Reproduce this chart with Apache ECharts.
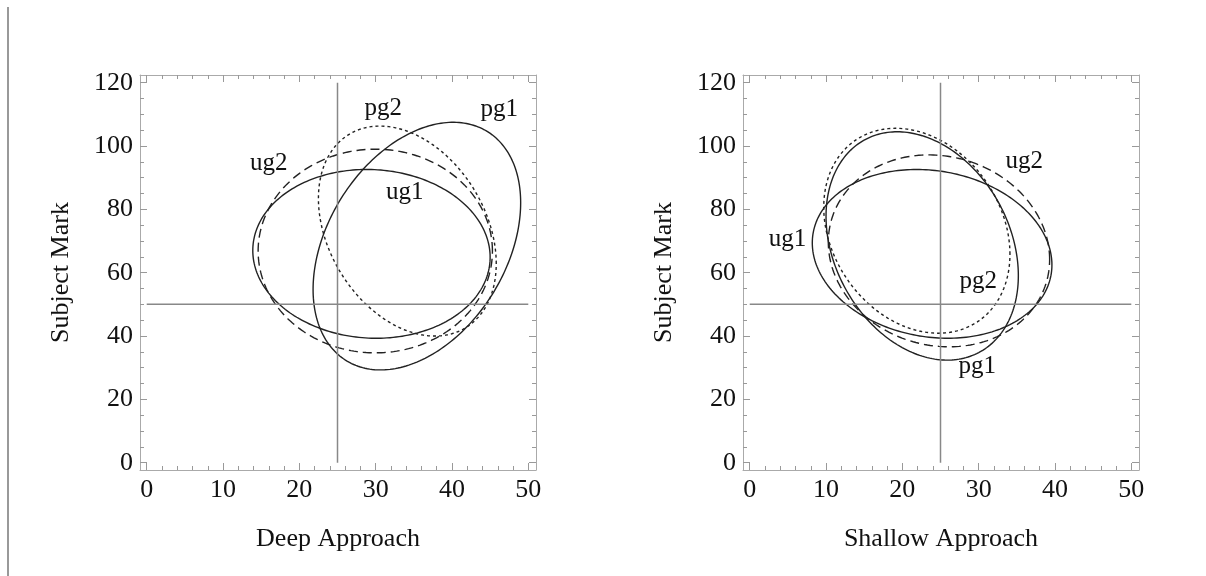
<!DOCTYPE html>
<html><head><meta charset="utf-8">
<script src="https://cdn.jsdelivr.net/npm/echarts@6/dist/echarts.min.js"></script>
<style>html,body{margin:0;padding:0;background:#fff}#c{width:1206px;height:576px}</style>
</head><body><div id="c"></div>
<script>
// ---- data ----
const xTicks = [0, 10, 20, 30, 40, 50];
const yTicks = [0, 20, 40, 60, 80, 100, 120];
const xMinor = [2,4,6,8,12,14,16,18,22,24,26,28,32,34,36,38,42,44,46,48];
const yMinor = [5,10,15,25,30,35,45,50,55,65,70,75,85,90,95,105,110,115];
const panelNames = ['Deep Approach', 'Shallow Approach'];
const yName = 'Subject Mark';
const groups = ['ug1', 'ug2', 'pg1', 'pg2'];
const crossX = 25;
const crossY = 50;

// ellipse parameters: centre, half-extent in x and y, correlation
const deepCenterX = [29.45, 29.95, 35.4, 34.15];
const deepCenterY = [65.95, 66.85, 68.4, 73.15];
const deepHalfX   = [15.55, 15.35, 13.6, 11.65];
const deepHalfY   = [26.65, 32.15, 39.1, 33.15];
const deepCorr    = [-0.04, 0.0, 0.35, -0.31];

const shallowCenterX = [23.9, 24.8, 22.6, 21.9];
const shallowCenterY = [65.95, 66.9, 68.45, 73.25];
const shallowHalfX   = [15.7, 14.5, 12.6, 12.2];
const shallowHalfY   = [26.65, 30.3, 36.05, 32.35];
const shallowCorr    = [-0.13, -0.09, -0.26, -0.23];

// label positions
const deepLabelX = [33.8, 16.0, 46.2, 31.0];
const deepLabelY = [85.4, 94.6, 111.4, 112.0];
const shallowLabelX = [4.95, 35.96, 29.8, 29.96];
const shallowLabelY = [70.4, 95.1, 30.4, 57.3];

// ---- chart ----
const FONT = 'Liberation Serif';
const X_MIN = -0.88, X_MAX = 51.01, Y_MIN = -2.3, Y_MAX = 122.43;
const dashes = { ug1: null, ug2: [9, 5], pg1: null, pg2: [3, 3] };
const frameColor = '#aaaaaa';
const tickColor = '#999999';

const grids = [
  { left: 140, top: 75, width: 396, height: 395 },
  { left: 743, top: 75, width: 396, height: 395 }
];

const xAxes = [], yAxes = [], series = [];
const panels = [
  { cx: deepCenterX, cy: deepCenterY, hx: deepHalfX, hy: deepHalfY, r: deepCorr, lx: deepLabelX, ly: deepLabelY },
  { cx: shallowCenterX, cy: shallowCenterY, hx: shallowHalfX, hy: shallowHalfY, r: shallowCorr, lx: shallowLabelX, ly: shallowLabelY }
];

function xAxisDef(g, pos, vals, len, main, withLabel) {
  return {
    gridIndex: g, type: 'value', min: X_MIN, max: X_MAX, position: pos,
    name: withLabel ? panelNames[g] : '', nameLocation: 'middle', nameGap: 56,
    nameTextStyle: { fontSize: 26, color: '#111', fontFamily: FONT },
    axisLine: { show: main, onZero: false, lineStyle: { color: frameColor, width: 1 } },
    axisTick: { show: true, inside: true, length: len, customValues: vals, lineStyle: { color: tickColor, width: 1 } },
    axisLabel: { show: withLabel, customValues: vals, margin: 7, fontSize: 26, color: '#111', fontFamily: FONT },
    splitLine: { show: false }
  };
}
function yAxisDef(g, pos, vals, len, main, withLabel) {
  return {
    gridIndex: g, type: 'value', min: Y_MIN, max: Y_MAX, position: pos,
    name: withLabel ? yName : '', nameLocation: 'middle', nameGap: 66,
    nameTextStyle: { fontSize: 26, color: '#111', fontFamily: FONT },
    axisLine: { show: main, onZero: false, lineStyle: { color: frameColor, width: 1 } },
    axisTick: { show: true, inside: true, length: len, customValues: vals, lineStyle: { color: tickColor, width: 1 } },
    axisLabel: { show: withLabel, customValues: vals, margin: 7, fontSize: 26, color: '#111', fontFamily: FONT },
    splitLine: { show: false }
  };
}

panels.forEach((p, g) => {
  xAxes.push(xAxisDef(g, 'bottom', xTicks, 7, true, true));
  xAxes.push(xAxisDef(g, 'bottom', xMinor, 4, false, false));
  xAxes.push(xAxisDef(g, 'top', xTicks, 7, true, false));
  xAxes.push(xAxisDef(g, 'top', xMinor, 4, false, false));
  yAxes.push(yAxisDef(g, 'left', yTicks, 7, true, true));
  yAxes.push(yAxisDef(g, 'left', yMinor, 4, false, false));
  yAxes.push(yAxisDef(g, 'right', yTicks, 7, true, false));
  yAxes.push(yAxisDef(g, 'right', yMinor, 4, false, false));

  const ax = 4 * g;
  // cross lines
  series.push({
    type: 'line', xAxisIndex: ax, yAxisIndex: ax, symbol: 'none', silent: true,
    lineStyle: { color: '#888', width: 1.5 },
    data: [[crossX, yTicks[0]], [crossX, yTicks[yTicks.length - 1]]]
  });
  series.push({
    type: 'line', xAxisIndex: ax, yAxisIndex: ax, symbol: 'none', silent: true,
    lineStyle: { color: '#888', width: 1.5 },
    data: [[xTicks[0], crossY], [xTicks[xTicks.length - 1], crossY]]
  });

  groups.forEach((name, i) => {
    const dash = dashes[name];
    series.push({
      type: 'custom', name: name, xAxisIndex: ax, yAxisIndex: ax, silent: true,
      encode: { x: 0, y: 1 },
      data: [[p.cx[i], p.cy[i], p.hx[i], p.hy[i], p.r[i]]],
      renderItem: function (params, api) {
        const cx = api.value(0), cy = api.value(1), hx = api.value(2), hy = api.value(3), r = api.value(4);
        const s = Math.sqrt(1 - r * r);
        const pts = [];
        const N = 240;
        for (let k = 0; k < N; k++) {
          const t = k / N * 2 * Math.PI;
          pts.push(api.coord([cx + hx * Math.cos(t), cy + hy * (r * Math.cos(t) + s * Math.sin(t))]));
        }
        return {
          type: 'polygon', shape: { points: pts },
          style: { fill: 'none', stroke: '#222', lineWidth: 1.4, lineDash: dash || null }
        };
      }
    });
  });

  series.push({
    type: 'custom', xAxisIndex: ax, yAxisIndex: ax, silent: true,
    encode: { x: 0, y: 1 },
    data: groups.map((n, i) => [p.lx[i], p.ly[i], n]),
    renderItem: function (params, api) {
      const pt = api.coord([api.value(0), api.value(1)]);
      return {
        type: 'text', x: pt[0], y: pt[1],
        style: { text: groups[params.dataIndex], fontSize: 25, fontFamily: FONT, fill: '#111', align: 'center', verticalAlign: 'middle' }
      };
    }
  });
});

const chart = echarts.init(document.getElementById('c'), null, { renderer: 'canvas' });
chart.setOption({
  backgroundColor: '#fff',
  animation: false,
  textStyle: { fontFamily: FONT },
  grid: grids,
  xAxis: xAxes,
  yAxis: yAxes,
  series: series,
  graphic: [{
    type: 'line', shape: { x1: 8, y1: 7, x2: 8, y2: 576 },
    style: { stroke: '#999', lineWidth: 2 }
  }]
});
</script>
</body></html>
